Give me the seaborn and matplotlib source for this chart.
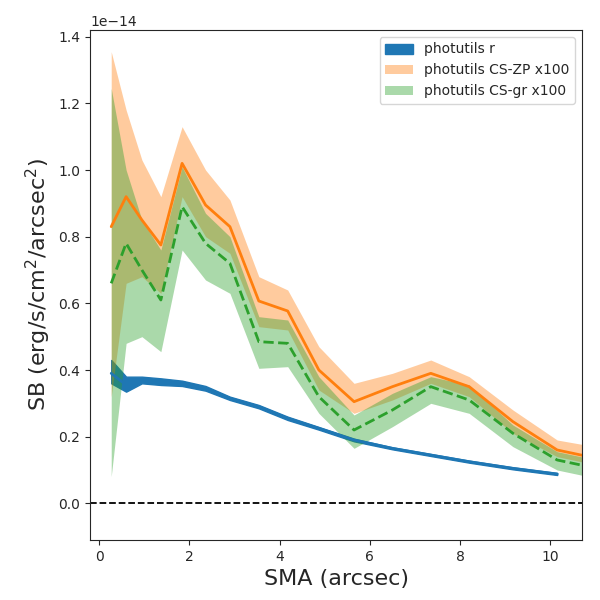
import numpy as np
import seaborn as sns
import matplotlib.pyplot as plt

sma = [0.27, 0.6, 0.95, 1.37, 1.84, 2.36, 2.9, 3.54, 4.18, 4.87, 5.65, 6.5, 7.35, 8.2, 9.17, 10.15, 11.2]

r_mid = [0.39, 0.355, 0.37, 0.365, 0.36, 0.345, 0.315, 0.29, 0.255, 0.225, 0.19, 0.165, 0.145, 0.125, 0.105, 0.088]
r_hi = [0.43, 0.38, 0.38, 0.375, 0.368, 0.352, 0.32, 0.295, 0.26, 0.229, 0.194, 0.168, 0.148, 0.128, 0.108, 0.091]
r_lo = [0.36, 0.335, 0.36, 0.355, 0.352, 0.338, 0.31, 0.285, 0.25, 0.221, 0.186, 0.162, 0.142, 0.122, 0.102, 0.085]

zp_mid = [0.83, 0.92, 0.85, 0.775, 1.02, 0.895, 0.83, 0.607, 0.577, 0.40, 0.305, 0.35, 0.39, 0.35, 0.245, 0.16, 0.13]
zp_hi = [1.355, 1.18, 1.03, 0.92, 1.13, 1.0, 0.91, 0.68, 0.64, 0.47, 0.36, 0.39, 0.43, 0.38, 0.28, 0.19, 0.165]
zp_lo = [0.32, 0.66, 0.68, 0.63, 0.92, 0.8, 0.75, 0.53, 0.52, 0.34, 0.27, 0.31, 0.36, 0.32, 0.21, 0.14, 0.11]

gr_mid = [0.66, 0.78, 0.70, 0.61, 0.89, 0.78, 0.72, 0.485, 0.48, 0.32, 0.22, 0.28, 0.35, 0.31, 0.21, 0.13, 0.10]
gr_hi = [1.245, 1.0, 0.85, 0.76, 1.01, 0.87, 0.80, 0.56, 0.55, 0.38, 0.265, 0.33, 0.38, 0.355, 0.235, 0.155, 0.125]
gr_lo = [0.08, 0.48, 0.50, 0.455, 0.76, 0.67, 0.63, 0.405, 0.41, 0.27, 0.165, 0.23, 0.30, 0.27, 0.17, 0.10, 0.07]

sc = 1e-14
sns.set_style("ticks")
plt.rcParams['font.family'] = ['DejaVu Sans']

fig, ax = plt.subplots(figsize=(6, 6), dpi=100)
x = np.array(sma)
xr = x[:len(r_mid)]

ax.fill_between(xr, np.array(r_lo) * sc, np.array(r_hi) * sc, color='C0', label='photutils r')
sns.lineplot(x=xr, y=np.array(r_mid) * sc, color='C0', lw=2, ax=ax)

ax.fill_between(x, np.array(zp_lo) * sc, np.array(zp_hi) * sc, color='C1', alpha=0.4, lw=0,
                label='photutils CS-ZP x100')
sns.lineplot(x=x, y=np.array(zp_mid) * sc, color='C1', lw=2, ax=ax)

ax.fill_between(x, np.array(gr_lo) * sc, np.array(gr_hi) * sc, color='C2', alpha=0.4, lw=0,
                label='photutils CS-gr x100')
sns.lineplot(x=x, y=np.array(gr_mid) * sc, color='C2', lw=2, ls='--', ax=ax)

ax.axhline(0, color='k', ls='--', lw=1.3)
ax.set_xlim(-0.2, 10.7)
ax.set_ylim(-0.11e-14, 1.42e-14)
ax.set_xlabel('SMA (arcsec)', fontsize=16)
ax.set_ylabel(r'SB (erg/s/cm$^2$/arcsec$^2$)', fontsize=16)
ax.legend(loc='upper right')

plt.subplots_adjust(left=0.15, right=0.97, top=0.95, bottom=0.1)
plt.savefig('out.png', dpi=100)
